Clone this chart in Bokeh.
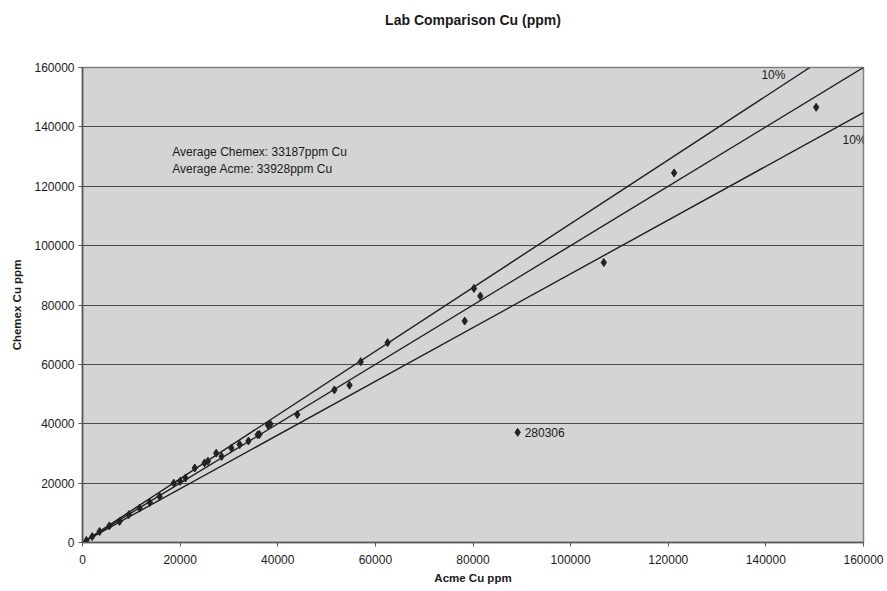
from bokeh.plotting import figure
from bokeh.models import Label, Range1d, FixedTicker, NumeralTickFormatter, LinearAxis
from bokeh.embed import file_html
from bokeh.resources import INLINE

# --- data ---
acme = [800, 2000, 3500, 5500, 7600, 9500, 11700, 13800, 15800, 18700, 20000,
        21100, 23000, 25000, 25700, 27400, 28500, 30500, 32200, 34000, 35900,
        36250, 38000, 38500, 44000, 51600, 54700, 57000, 62500, 78300, 80200,
        81500, 89150, 106800, 121200, 150300]
chemex = [700, 2000, 3700, 5600, 7100, 9400, 11600, 13500, 15500, 20000, 20600,
          21700, 25100, 26800, 27400, 30100, 29000, 31800, 33000, 34200, 36300,
          36400, 39500, 39900, 43100, 51400, 53000, 60900, 67300, 74600, 85600,
          83000, 37100, 94300, 124500, 146600]
outlier_id = "280306"
outlier_x, outlier_y = 89150, 37100

line_mid_x, line_mid_y = [0, 160000], [0, 160000]
line_hi_x, line_hi_y = [0, 149000], [0, 160000]
line_lo_x, line_lo_y = [0, 160000], [0, 144800]

ticks = [0, 20000, 40000, 60000, 80000, 100000, 120000, 140000, 160000]

title = "Lab Comparison Cu (ppm)"
avg_lines = ["Average Chemex: 33187ppm Cu", "Average Acme: 33928ppm Cu"]

FONT = "Liberation Sans"
TXT = "#1a1a1a"

p = figure(width=887, height=591, output_backend="svg", toolbar_location=None,
           x_range=Range1d(0, 160000), y_range=Range1d(0, 160000),
           min_border_left=82, min_border_right=24, min_border_top=67,
           min_border_bottom=49)

p.background_fill_color = "#d4d4d4"
p.border_fill_color = "white"
p.outline_line_color = "#808080"
p.outline_line_width = 1.5

p.xgrid.visible = False
p.ygrid.grid_line_color = "#4a4a4a"
p.ygrid.grid_line_width = 1.2

xax = p.below[0]
yax = p.left[0]
for ax in (xax, yax):
    ax.ticker = FixedTicker(ticks=ticks)
    ax.formatter = NumeralTickFormatter(format="0")
    ax.minor_tick_line_color = None
    ax.major_tick_in = 0
    ax.major_tick_out = 4
    ax.axis_line_color = "#555555"
    ax.axis_line_width = 1.5
    ax.major_tick_line_color = "#555555"
    ax.major_label_text_font = FONT
    ax.major_label_text_font_size = "12px"
    ax.major_label_text_color = TXT
    ax.axis_label_text_font = FONT
    ax.axis_label_text_font_size = "11.5px"
    ax.axis_label_text_font_style = "bold"
    ax.axis_label_text_color = TXT

xax.axis_label = "Acme Cu ppm"
xax.major_label_standoff = 8
xax.axis_label_standoff = 5
yax.axis_label = "Chemex Cu ppm"
yax.major_label_standoff = 4
yax.axis_label_standoff = 8

# title drawn as the label of an otherwise empty top axis
top = LinearAxis(axis_label=title, ticker=FixedTicker(ticks=[]),
                 axis_line_color=None, major_tick_line_color=None,
                 minor_tick_line_color=None, major_label_text_font_size="0px",
                 major_tick_out=0, major_tick_in=0, major_label_standoff=0,
                 axis_label_standoff=40, axis_label_text_font=FONT,
                 axis_label_text_font_size="14px",
                 axis_label_text_font_style="bold", axis_label_text_color=TXT)
p.add_layout(top, "above")

for xs, ys in ((line_mid_x, line_mid_y), (line_hi_x, line_hi_y), (line_lo_x, line_lo_y)):
    p.line(xs, ys, line_color="#1e1e1e", line_width=1.4)

p.scatter(acme, chemex, marker="diamond", size=8, fill_color="#222222",
          line_color="#222222")

p.add_layout(Label(x=outlier_x, y=outlier_y, text=outlier_id, x_offset=7,
                   text_baseline="middle", text_font=FONT,
                   text_font_size="12px", text_color=TXT))

p.add_layout(Label(x=144000, y=160000, text="10%", y_offset=-14,
                   text_font=FONT, text_font_size="12px", text_color=TXT,
                   text_align="right", text_baseline="bottom"))
p.add_layout(Label(x=160000, y=135500, text="10%", x_offset=3,
                   text_font=FONT, text_font_size="12px", text_color=TXT,
                   text_align="right", text_baseline="middle"))

for i, t in enumerate(avg_lines):
    p.add_layout(Label(x=18400, y=131600, y_offset=-17 * i, text=t,
                       text_font=FONT, text_font_size="12px",
                       text_color=TXT, text_baseline="middle"))

open("out.html", "w").write(file_html(p, INLINE))
